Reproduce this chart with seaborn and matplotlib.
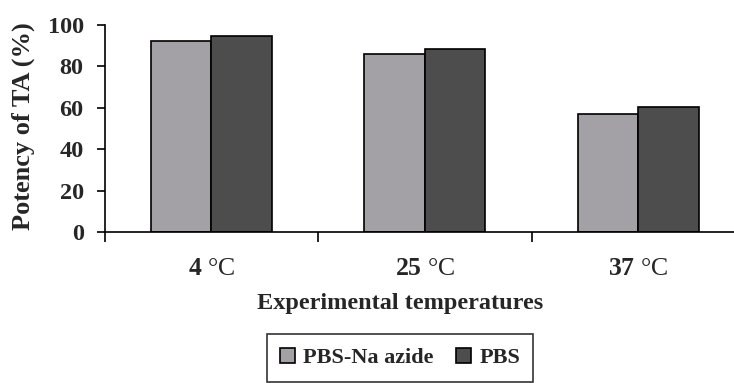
import matplotlib
matplotlib.use("Agg")
import matplotlib.pyplot as plt
import seaborn as sns
import pandas as pd

categories = ["4 °C", "25 °C", "37 °C"]
category_numbers = ["4", "25", "37"]
series_names = ["PBS-Na azide", "PBS"]
pbs_na_azide = [92.1, 86.0, 57.2]
pbs = [94.5, 88.3, 60.4]
y_ticks = [0, 20, 40, 60, 80, 100]

sns.set_theme(style="white")
plt.rcParams["font.family"] = ["Liberation Serif", "DejaVu Serif"]
plt.rcParams["mathtext.fontset"] = "custom"
plt.rcParams["mathtext.bf"] = "Liberation Serif:bold"
plt.rcParams["mathtext.rm"] = "Liberation Serif"

df = pd.DataFrame({
    "Temperature": categories * 2,
    "Series": [series_names[0]] * 3 + [series_names[1]] * 3,
    "Potency": pbs_na_azide + pbs,
})

W, H = 734, 383
left_px, right_px, top_px, bottom_px = 104.5, 745, 25, 232
fig = plt.figure(figsize=(W / 100, H / 100), dpi=100)
ax = fig.add_axes([left_px / W, 1 - bottom_px / H, (right_px - left_px) / W, (bottom_px - top_px) / H])

sns.barplot(data=df, x="Temperature", y="Potency", hue="Series",
            order=categories, hue_order=series_names,
            palette=["#A3A1A6", "#4D4D4D"], edgecolor="black", linewidth=1.2,
            width=0.567, saturation=1, ax=ax, legend=True)

ax.set_xlim(-0.5, 2.5)
ax.set_ylim(0, 100)
ax.set_yticks(y_ticks)
ax.set_yticklabels([str(t) for t in y_ticks], fontsize=17.5, fontweight="bold")
ax.set_xticks(range(len(categories)))
ax.set_xticklabels([r"$\mathbf{%s}$ °C" % n for n in category_numbers], fontsize=18.5)
ax.set_xticks([-0.5, 0.5, 1.5], minor=True)
ax.tick_params(axis="x", which="major", length=0, pad=19)
ax.tick_params(axis="x", which="minor", length=7, width=1.2, direction="out", color="black", bottom=True)
ax.tick_params(axis="y", length=6, width=1.2, direction="out", color="black", left=True, pad=9)

for s in ["top", "right"]:
    ax.spines[s].set_visible(False)
for s in ["left", "bottom"]:
    ax.spines[s].set_color("black")
    ax.spines[s].set_linewidth(1.2)

ax.set_xlabel("Experimental temperatures", fontsize=17.5, fontweight="bold")
ax.xaxis.label.set_va("center")
ax.xaxis.set_label_coords((400 - left_px) / (right_px - left_px), -(304 - bottom_px) / (bottom_px - top_px))
ax.set_ylabel("Potency of TA (%)", fontsize=19, fontweight="bold")
ax.yaxis.label.set_va("center")
ax.yaxis.set_label_coords((23.5 - left_px) / (right_px - left_px), (bottom_px - 126.5) / (bottom_px - top_px))

handles, labels = ax.get_legend_handles_labels()
ax.get_legend().remove()
leg = fig.legend(handles, labels, loc="center", bbox_to_anchor=(400 / W, 1 - 358 / H),
                 ncol=2, frameon=True, fancybox=False, handlelength=0.7, handleheight=0.7,
                 handletextpad=0.35, columnspacing=1.0, borderpad=0.6,
                 prop={"family": "Liberation Serif", "weight": "bold", "size": 16})
leg.get_frame().set_edgecolor("black")
leg.get_frame().set_linewidth(1.2)

fig.savefig("out.png", dpi=100, facecolor="white")
